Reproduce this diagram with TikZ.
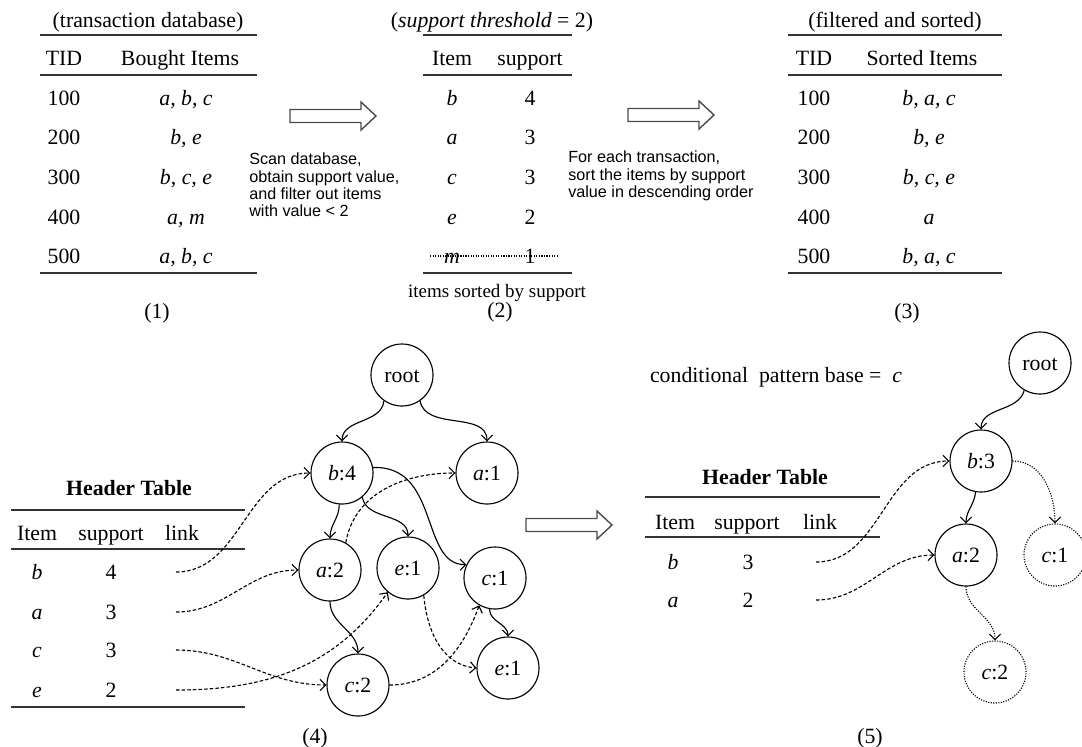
\documentclass[tikz,border=0pt]{standalone}
\usepackage{fontspec}
\setmainfont{Liberation Serif}
\setsansfont{Liberation Sans}
\usetikzlibrary{arrows.meta,positioning,calc}

\begin{document}
\begin{tikzpicture}[x=0.025cm, y=-0.025cm,
  every node/.style={font=\fontsize{15.5}{18}\selectfont, inner sep=0pt, text height=12.5pt, text depth=2.5pt},
  hrule/.style={line width=1.1pt, black!80},
  treenode/.style={circle, draw, line width=0.8pt, minimum size=1.55cm, inner sep=0pt},
  ghostnode/.style={treenode, dash pattern=on 0.8pt off 1pt},
  branch/.style={line width=0.8pt, -{Straight Barb[length=4pt,width=8pt]}},
  nodelink/.style={branch, dash pattern=on 2.5pt off 1.5pt},
  ghostlink/.style={branch, dash pattern=on 0.8pt off 1pt},
  remark/.style={font=\fontsize{11.5}{12.3}\selectfont\sffamily, align=left, anchor=west, text height={}, text depth={}},
  bigarrow/.pic={\draw[line width=1pt, black!70, fill=white] (0,-6.5) -- (71,-6.5) -- (71,-14) -- (86,0) -- (71,14) -- (71,6.5) -- (0,6.5) -- cycle;}]

\useasboundingbox (0,0) rectangle (1082,746);

\node (dbtitle) at (148,20) {(transaction database)};
\draw[hrule] (40,35) -- (257,35) (40,75) -- (257,75) (40,273) -- (257,273);
\node (dbtid) at (64,58) {TID};
\node (dbitems) at (180,58) {Bought Items};
\foreach [count=\i from 0] \tid/\bought in {100/{a, b, c}, 200/{b, e}, 300/{b, c, e}, 400/{a, m}, 500/{a, b, c}}{
  \node (tid\i) at (64, 98+39.7*\i) {\tid};
  \node (bought\i) at (186, 98+39.7*\i) {\textit{\bought}};
}
\node (lab1) at (157,311) {(1)};

\pic at (290,116) {bigarrow};
\node[remark] (scan) at (249,185) {Scan database,\\obtain support value,\\and filter out items\\with value < 2};

\node (sptitle) at (492,20) {(\textit{support threshold} = 2)};
\draw[hrule] (423,35) -- (572,35) (423,75) -- (572,75) (423,273) -- (572,273);
\node (spitem) at (452,58) {Item};
\node (spsup) at (530,58) {support};
\foreach [count=\i from 0] \sitem/\scount in {b/4, a/3, c/3, e/2, m/1}{
  \node (sitem\i) at (452, 98+39.7*\i) {\textit{\sitem}};
  \node (scount\i) at (530, 98+39.7*\i) {\scount};
}
\draw[line width=0.8pt, dash pattern=on 0.8pt off 1pt] (430,256) -- (557,256);
\node[font=\fontsize{13.5}{16}\selectfont] (sorted) at (497,290) {items sorted by support};
\node (lab2) at (500,310) {(2)};

\pic at (628,115) {bigarrow};
\node[remark] (sortnote) at (568,176) {For each transaction,\\sort the items by support\\value in descending order};

\node (fstitle) at (895,20) {(filtered and sorted)};
\draw[hrule] (788,35) -- (1002,35) (788,75) -- (1002,75) (788,273) -- (1002,273);
\node (fstid) at (814,58) {TID};
\node (fsitems) at (922,58) {Sorted Items};
\foreach [count=\i from 0] \tid/\sorteditems in {100/{b, a, c}, 200/{b, e}, 300/{b, c, e}, 400/{a}, 500/{b, a, c}}{
  \node (ftid\i) at (814, 98+39.7*\i) {\tid};
  \node (fitems\i) at (929, 98+39.7*\i) {\textit{\sorteditems}};
}
\node (lab3) at (907,311) {(3)};

\node[treenode] (root4) at (402,375) {root};
\node[treenode] (b4) at (342,473) {\textit{b}:4};
\node[treenode] (a1) at (487,473) {\textit{a}:1};
\node[treenode] (a2) at (330,570) {\textit{a}:2};
\node[treenode] (e1) at (408,568) {\textit{e}:1};
\node[treenode] (c1) at (495,578) {\textit{c}:1};
\node[treenode] (c2) at (358,685) {\textit{c}:2};
\node[treenode] (e1b) at (508,668) {\textit{e}:1};

\draw[branch] (root4.235) to[out=-95,in=90] (b4.north);
\draw[branch] (root4.-55) to[out=-80,in=90] (a1.north);
\draw[branch] (b4.-95) to[out=-90,in=90] (a2.north);
\draw[branch] (b4.-50) to[out=-80,in=90] (e1.north);
\draw[branch] (b4.10) .. controls (440,465) and (420,565) .. (c1.155);
\draw[branch] (a2.south) to[out=-90,in=90] (c2.north);
\draw[branch] (c1.-100) to[out=-90,in=90] (e1b.north);

\draw[nodelink] (a2.60) to[out=80,in=180] (a1.west);
\draw[nodelink] (e1.-60) to[out=-85,in=175] (e1b.west);
\draw[nodelink] (c2.east) to[out=0,in=-110] (c1.-120);

\node[font=\fontsize{15.5}{18}\selectfont\bfseries] (ht4) at (129,488) {Header Table};
\draw[hrule] (11,510) -- (245,510) (11,549) -- (245,549) (11,707) -- (245,707);
\node (h4item) at (37,533) {Item};
\node (h4sup) at (111,533) {support};
\node (h4link) at (182,533) {link};
\foreach [count=\i from 0] \hitem/\hsup/\hy/\target/\tin in {b/4/572/b4.west/180, a/3/612/a2.west/180, c/3/650/c2.west/180, e/2/690/e1.-130/-125}{
  \node (hi\i) at (37,\hy) {\textit{\hitem}};
  \node (hs\i) at (111,\hy) {\hsup};
  \coordinate (hl\i) at (176,\hy);
  \draw[nodelink] (hl\i) to[out=0,in=\tin] (\target);
}
\node (lab4) at (315,736) {(4)};

\pic at (526,525) {bigarrow};

\node (cpb) at (776,375) {conditional\ \ pattern base =\ \ \textit{c}};
\node[font=\fontsize{15.5}{18}\selectfont\bfseries] (ht5) at (765,477) {Header Table};
\draw[hrule] (645,497) -- (880,497) (645,537) -- (880,537);
\node (h5item) at (675,522) {Item};
\node (h5sup) at (747,522) {support};
\node (h5link) at (820,522) {link};

\node[treenode] (root5) at (1040,363) {root};
\node[treenode] (b3) at (981,461) {\textit{b}:3};
\node[treenode] (a2c) at (966,555) {\textit{a}:2};
\node[ghostnode] (c1c) at (1055,555) {\textit{c}:1};
\node[ghostnode] (c2c) at (995,672) {\textit{c}:2};

\draw[branch] (root5.240) to[out=-105,in=90] (b3.north);
\draw[branch] (b3.-100) to[out=-95,in=90] (a2c.north);
\draw[ghostlink] (b3.east) to[out=0,in=90] (c1c.north);
\draw[ghostlink] (a2c.south) to[out=-90,in=90] (c2c.north);

\foreach [count=\i from 0] \hitem/\hsup/\hy/\target in {b/3/562/b3.west, a/2/600/a2c.west}{
  \node (gi\i) at (673,\hy) {\textit{\hitem}};
  \node (gs\i) at (748,\hy) {\hsup};
  \coordinate (gl\i) at (816,\hy);
  \draw[nodelink] (gl\i) to[out=0,in=180] (\target);
}
\node (lab5) at (870,736) {(5)};
\end{tikzpicture}
\end{document}
